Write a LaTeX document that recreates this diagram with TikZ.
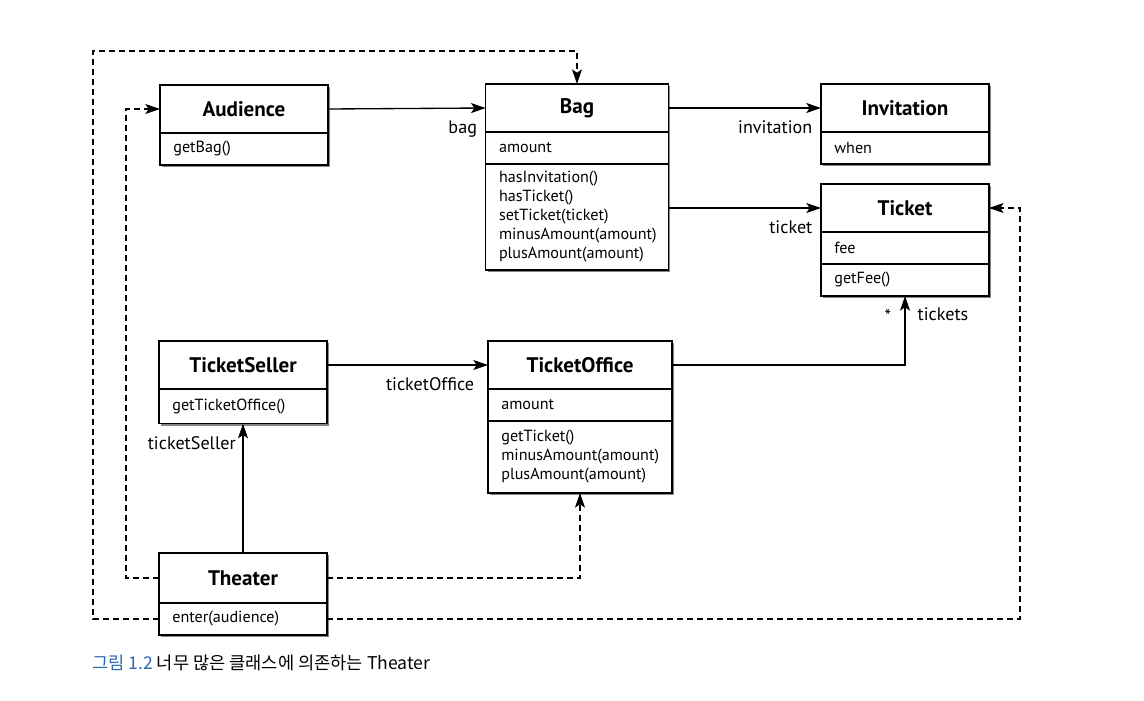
\documentclass[tikz,border=0pt]{standalone}
\usepackage{fontspec}
\setmainfont{PT Sans}
\newfontfamily\krfont{Noto Sans CJK KR}
\usetikzlibrary{arrows.meta,positioning,shadows}
\definecolor{capblue}{HTML}{2A6AB0}

\tikzset{
  umlshadow/.style={drop shadow={shadow xshift=1.4pt, shadow yshift=-1.4pt, fill=black!60, opacity=.8}},
  classname/.style={draw, fill=white, line width=0.9pt, outer sep=0pt, inner sep=0pt,
    minimum width=#1, minimum height=36pt, font=\bfseries\fontsize{15.8}{18}\selectfont, umlshadow},
  classname/.default=126pt,
  classpart/.style={draw, fill=white, line width=0.9pt, outer sep=0pt, inner xsep=10pt, inner ysep=4pt,
    text width=#1, align=left, minimum height=24pt, font=\fontsize{12.1}{14.25}\selectfont, umlshadow},
  classpart/.default=106pt,
  assoc/.style={-{Stealth[length=11pt,width=7.5pt,inset=2.5pt]}, line width=1pt},
  depend/.style={assoc, dash pattern=on 4.5pt off 3pt},
  role/.style={font=\fontsize{13.6}{16}\selectfont, inner sep=1pt}
}

\begin{document}
\begin{tikzpicture}[x=0.75pt,y=-0.75pt]
  \useasboundingbox (0,0) rectangle (1144,700);

  % classes
  \node[classname] (audience) at (244,109) {Audience};
  \node[classpart, below=0pt of audience] (audienceops) {getBag()};

  \node[classname=137pt] (bag) at (577,108) {Bag};
  \node[classpart=117pt, below=0pt of bag] (bagattr) {amount};
  \node[classpart=117pt, below=0pt of bagattr, minimum height=79.5pt] (bagops)
    {hasInvitation()\\hasTicket()\\setTicket(ticket)\\minusAmount(amount)\\plusAmount(amount)};

  \node[classname] (invitation) at (905,108) {Invitation};
  \node[classpart, below=0pt of invitation] (invitationattr) {when};

  \node[classname] (ticket) at (905,208) {Ticket};
  \node[classpart, below=0pt of ticket] (ticketattr) {fee};
  \node[classpart, below=0pt of ticketattr] (ticketops) {getFee()};

  \node[classname] (seller) at (243,365) {TicketSeller};
  \node[classpart, below=0pt of seller, minimum height=26pt] (sellerops) {getTicketOffice()};

  \node[classname=138pt] (office) at (580,365) {TicketOffice};
  \node[classpart=118pt, below=0pt of office] (officeattr) {amount};
  \node[classpart=118pt, below=0pt of officeattr, minimum height=54pt] (officeops)
    {getTicket()\\minusAmount(amount)\\plusAmount(amount)};

  \node[classname, minimum height=37.5pt] (theater) at (243,578) {Theater};
  \node[classpart, below=0pt of theater] (theaterops) {enter(audience)};

  % associations
  \draw[assoc] (audience.east) -- (bag.west)
    node[role, at end, below left=8pt and 5pt] {bag};
  \draw[assoc] (bag.east) -- (invitation.west)
    node[role, at end, below left=8pt and 5pt] {invitation};
  \draw[assoc] (bagops.east |- ticket.west) -- (ticket.west)
    node[role, at end, below left=8pt and 5pt] {ticket};
  \draw[assoc] (seller.east) -- (office.west)
    node[role, at end, below left=8pt and 9pt] {ticketOffice};
  \draw[assoc] (office.east) -| (ticketops.south)
    node[role, at end, below right=7pt and 8pt] {tickets}
    node[role, at end, below left=9pt and 9pt] {*};
  \draw[assoc] (theater.north) -- (sellerops.south)
    node[role, at end, below left=8pt and 4pt] {ticketSeller};

  % dependencies of Theater
  \coordinate (outercorner) at (93,51);
  \coordinate (rightedge) at (1020,0);
  \draw[depend] (theaterops.west) -| (outercorner) -| (bag.north);
  \draw[depend] (theater.west) -- ++(-33,0) |- (audience.west);
  \draw[depend] (theater.east) -| (officeops.south);
  \draw[depend] (theaterops.east) -| (rightedge |- ticket.east) -- (ticket.east);

  % caption
  \node[anchor=west, inner sep=0pt, font=\krfont\fontsize{13.2}{15}\selectfont] (caption) at (92,663)
    {\textcolor{capblue}{그림 1.2} 너무 많은 클래스에 의존하는 Theater};
\end{tikzpicture}
\end{document}
